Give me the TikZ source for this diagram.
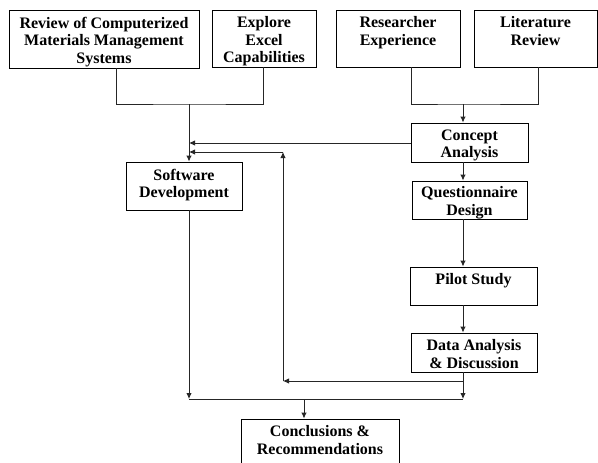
\documentclass[tikz,border=0pt]{standalone}
\usepackage{fontspec}
\setmainfont{Liberation Serif}
\usetikzlibrary{arrows.meta}
\begin{document}
\begin{tikzpicture}[x=1pt,y=-1pt,
  box/.style={draw=black, line width=0.9pt, inner sep=0pt},
  lbl/.style={font=\bfseries\fontsize{16}{17.5}\selectfont, align=center, anchor=north, inner sep=0pt},
  conn/.style={draw=black!85, line width=0.9pt},
  arr/.style={conn, -{Latex[length=6pt,width=5.5pt]}}]
\clip (0,0) rectangle (598,463);
\fill[white] (0,0) rectangle (598,463);
% boxes
\node[box, minimum width=190pt, minimum height=58pt] (b1) at (104,39) {};
\node[box, minimum width=104pt, minimum height=57pt] (b2) at (264,38.5) {};
\node[box, minimum width=124pt, minimum height=57pt] (b3) at (398,38.5) {};
\node[box, minimum width=123pt, minimum height=57pt] (b4) at (535.5,38.5) {};
\node[box, minimum width=117pt, minimum height=39pt] (concept) at (469.5,142.5) {};
\node[box, minimum width=116pt, minimum height=48pt] (soft) at (184,186) {};
\node[box, minimum width=115pt, minimum height=38pt] (quest) at (469.5,200) {};
\node[box, minimum width=127pt, minimum height=38pt] (pilot) at (473.5,286) {};
\node[box, minimum width=126pt, minimum height=39pt] (data) at (474,352.5) {};
\node[box, minimum width=158pt, minimum height=58pt] (concl) at (320,448) {};
% texts
\node[lbl] (t1) at ([yshift=-7pt]b1.north) {Review of Computerized\\Materials Management\\Systems};
\node[lbl] (t2) at ([yshift=-7pt]b2.north) {Explore\\Excel\\Capabilities};
\node[lbl] (t3) at ([yshift=-7pt]b3.north) {Researcher\\Experience};
\node[lbl] (t4) at ([yshift=-7pt]b4.north) {Literature\\Review};
\node[lbl] (t5) at ([yshift=-7pt]concept.north) {Concept\\Analysis};
\node[lbl] (t6) at ([yshift=-7pt]soft.north) {Software\\Development};
\node[lbl] (t7) at ([yshift=-6pt]quest.north) {Questionnaire\\Design};
\node[lbl] (t8) at ([yshift=-7pt]pilot.north) {Pilot Study};
\node[lbl] (t9) at ([yshift=-7pt]data.north) {Data Analysis\\\& Discussion};
\node[lbl] (t10) at ([yshift=-7pt]concl.north) {Conclusions \&\\Recommendations};
% junctions
\coordinate (jL) at (189,104);
\coordinate (jR) at (463,104);
\coordinate (jD) at (463,381);
\coordinate (lp) at (283,381);
\coordinate (lt) at (283,152);
\coordinate (jB) at (463,399);
\coordinate (jBL) at (189,399);
\coordinate (jC) at (304,399);
% connectors
\draw[conn] ([xshift=12pt]b1.south) |- (jL) -| ([xshift=-1pt]b2.south);
\draw[arr] (jL) -- (jL |- soft.north);
\draw[conn] ([xshift=13pt]b3.south) |- (jR) -| ([xshift=2.5pt]b4.south);
\draw[arr] (jR) -- (jR |- concept.north);
\draw[arr] (concept.west |- 0,143) -- (jL |- 0,143);
\draw[arr] (jR |- concept.south) -- (jR |- quest.north);
\draw[arr] (jR |- quest.south) -- (jR |- pilot.north);
\draw[arr] (jR |- pilot.south) -- (jR |- data.north);
\draw[arr] (jR |- data.south) -- (jB);
\draw[arr] (jD) -- (lp);
\draw[arr] (lp) -- (lt);
\draw[arr] (lt) -- (lt -| jL);
\draw[arr] (jL |- soft.south) -- (jBL);
\draw[conn] (jBL) -- (jB);
\draw[arr] (jC) -- (jC |- concl.north);
\end{tikzpicture}
\end{document}
